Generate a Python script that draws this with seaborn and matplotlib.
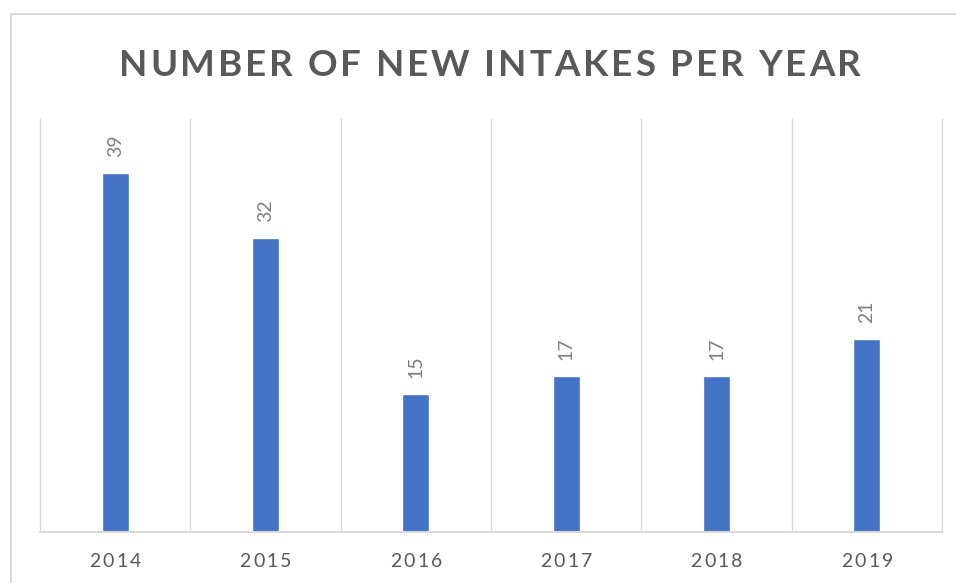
import numpy as np
import pandas as pd
import seaborn as sns
import matplotlib
matplotlib.use("Agg")
import matplotlib.pyplot as plt
from matplotlib.lines import Line2D
from matplotlib.font_manager import FontProperties
from matplotlib.transforms import IdentityTransform

# Data
years = ["2014", "2015", "2016", "2017", "2018", "2019"]
intakes = [39, 32, 15, 17, 17, 21]
title = "NUMBER OF NEW INTAKES PER YEAR"

sns.set_theme(style="white")
plt.rcParams["font.family"] = ["Lato", "DejaVu Sans"]

W, H = 956, 583
fig = plt.figure(figsize=(W / 100, H / 100), dpi=100)
fig.patch.set_facecolor("white")

# plot area in pixel terms
left, right, top, bottom = 40, 942, 118, 532
ax = fig.add_axes([left / W, (H - bottom) / H, (right - left) / W, (bottom - top) / H])

df = pd.DataFrame({"year": years, "intakes": intakes})
sns.barplot(data=df, x="year", y="intakes", color="#4472C4", saturation=1,
            width=0.18, ax=ax, zorder=3)

ax.set_xlim(-0.5, len(years) - 0.5)
ax.set_ylim(0, 45)
ax.set_yticks([])
ax.set_xticks(range(len(years)))
ax.set_xticklabels([])
ax.tick_params(length=0)
ax.set_xlabel("")
ax.set_ylabel("")
for s in ["left", "right", "top"]:
    ax.spines[s].set_visible(False)
ax.spines["bottom"].set_color("#D9D9D9")
ax.spines["bottom"].set_linewidth(1.5)
ax.spines["bottom"].set_zorder(4)

# vertical separators between categories
bounds = np.arange(len(years) + 1) - 0.5
ax.vlines(bounds, 0, 1, transform=ax.get_xaxis_transform(), colors="#D9D9D9",
          lw=1.0, clip_on=False, zorder=1)

# value labels, rotated
ax.bar_label(ax.containers[0], fmt="%d", rotation=90, padding=11.5,
             color="#7F7F7F", fontsize=14)

# chart frame (top and left edges)
fig.add_artist(Line2D([11 / W, 1], [(H - 14) / H] * 2, transform=fig.transFigure,
                      color="#D9D9D9", lw=1.5))
fig.add_artist(Line2D([11 / W] * 2, [0, (H - 14) / H], transform=fig.transFigure,
                      color="#D9D9D9", lw=1.5))

renderer = fig.canvas.get_renderer()


def ink_width(s, prop):
    w, h, d = renderer.get_text_width_height_descent(s, prop, ismath=False)
    return w


def tracked_text(xc, yb, s, prop, color, tracking):
    """Draw letter-spaced text centred at xc with baseline yb (pixels)."""
    total = ink_width(s, prop) + tracking * (len(s) - 1)
    x0 = xc - total / 2
    for i, c in enumerate(s):
        if c == " ":
            continue
        offs = ink_width(s[: i + 1], prop) - ink_width(c, prop) + tracking * i
        fig.text(x0 + offs, yb, c, fontproperties=prop, color=color,
                 ha="left", va="baseline", transform=IdentityTransform())


# title
title_prop = FontProperties(family=["Lato", "DejaVu Sans"], weight="bold", size=26.5)
title_width = 742
title_track = max(0.0, (title_width - ink_width(title, title_prop)) / (len(title) - 1))
tracked_text(490, H - 76, title, title_prop, "#595959", title_track)

# category labels
tick_prop = FontProperties(family=["Lato", "DejaVu Sans"], size=14)
tick_track = (52 - ink_width(years[0], tick_prop)) / (len(years[0]) - 1)
for i, y in enumerate(years):
    xd, yd = ax.transData.transform((i, 0))
    tracked_text(xd, yd - 35, y, tick_prop, "#595959", tick_track)

fig.savefig("out.png", dpi=100, facecolor="white")
